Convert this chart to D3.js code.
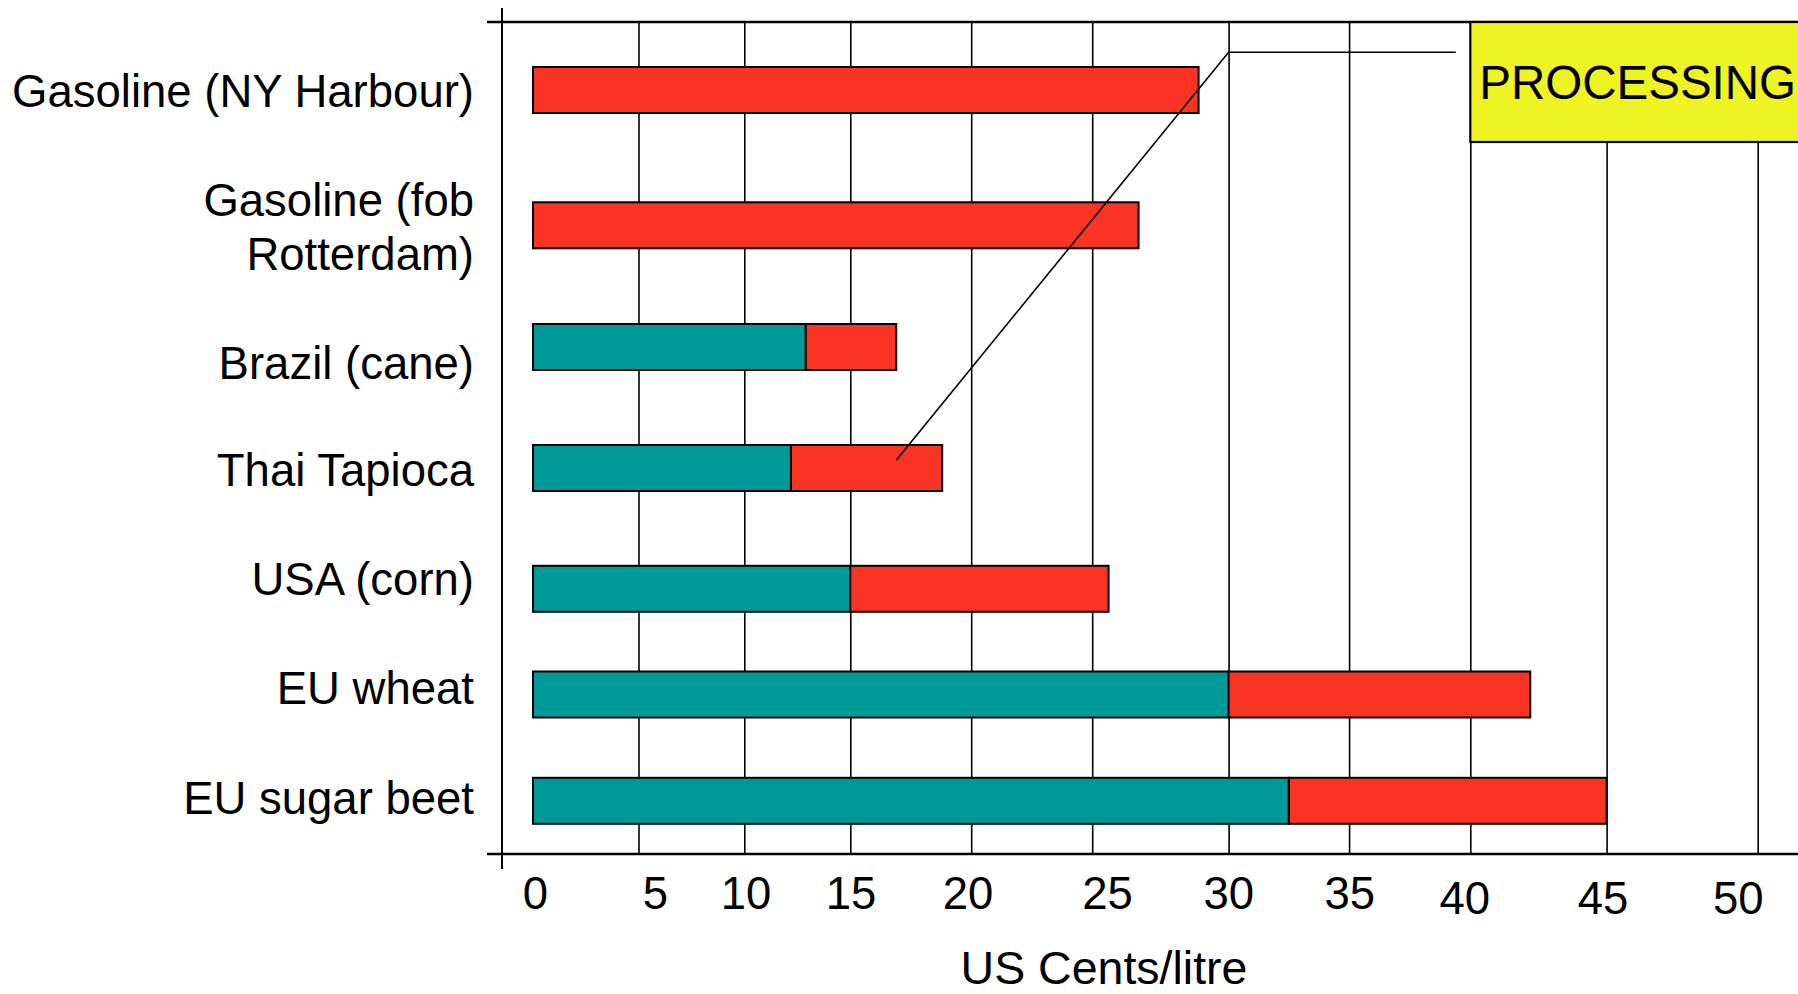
<!DOCTYPE html>
<html>
<head>
<meta charset="utf-8">
<script src="https://cdn.jsdelivr.net/npm/d3@7"></script>
<style>
  html, body { margin: 0; padding: 0; background: #ffffff; }
  svg { display: block; font-family: "Liberation Sans", Arial, sans-serif; }
</style>
</head>
<body>
<svg id="chart" width="1798" height="994"></svg>
<script>
// ---- data ----
const categories = ["Gasoline (NY Harbour)", "Gasoline (fob Rotterdam)", "Brazil (cane)",
                    "Thai Tapioca", "USA (corn)", "EU wheat", "EU sugar beet"];
const categoryLines = [["Gasoline (NY Harbour)"], ["Gasoline (fob", "Rotterdam)"], ["Brazil (cane)"],
                       ["Thai Tapioca"], ["USA (corn)"], ["EU wheat"], ["EU sugar beet"]];
const feedstockCost  = [0, 0, 12.9, 12.2, 15.0, 30.0, 32.5];   // teal segment
const processingCost = [28.9, 26.7, 4.0, 6.6, 10.6, 12.2, 12.5]; // red segment
const tickValues = [0, 5, 10, 15, 20, 25, 30, 35, 40, 45, 50];
const gridValues = [5, 10, 15, 20, 25, 30, 35, 40, 45, 50];
const axisTitle = "US Cents/litre";
const calloutText = "PROCESSING";
const calloutTarget = { category: "Thai Tapioca", value: 16.9 };
const calloutElbowValue = 30;
const calloutEndValue = 39.4;
const calloutBoxValue = 40;

// ---- layout ----
const W = 1798, H = 994;
const plotTop = 22, plotBottom = 854, axisX = 502, lineLeft = 487;
const barH = 46;
const colors = { feed: "#009999", proc: "#F93422", box: "#EEF422", ink: "#000000" };

// The original picture's value axis is not evenly spaced: piecewise-linear scale
const x = d3.scaleLinear()
  .domain(tickValues)
  .range([533, 638.5, 744.3, 850.3, 971.2, 1092.2, 1228.6, 1349.1, 1470.3, 1606.6, 1757.7]);
// tick labels are placed slightly off the grid lines in the original
const xLabel = d3.scaleLinear()
  .domain(tickValues)
  .range([535, 655, 745.6, 850.5, 967.5, 1107, 1228.2, 1349.2, 1464.2, 1602.5, 1737.8]);
const yBar = d3.scaleOrdinal().domain(categories)
  .range([90, 225.3, 347, 468, 588.8, 694.5, 800.8]);
const yLabel = d3.scaleOrdinal().domain(categories)
  .range([91, 227, 363, 470, 579, 688, 798]);

const svg = d3.select("#chart");

// grid lines (vertical)
const grid = svg.append("g")
  .attr("transform", `translate(0,${plotBottom})`)
  .call(d3.axisBottom(x).tickValues(gridValues).tickSize(-(plotBottom - plotTop)).tickFormat(""));
grid.select(".domain").remove();
grid.selectAll(".tick line").attr("stroke", colors.ink).attr("stroke-width", 1.6);

// frame lines
svg.append("line").attr("x1", lineLeft).attr("x2", W).attr("y1", plotTop).attr("y2", plotTop)
  .attr("stroke", colors.ink).attr("stroke-width", 2.6);
svg.append("line").attr("x1", lineLeft).attr("x2", W).attr("y1", plotBottom).attr("y2", plotBottom)
  .attr("stroke", colors.ink).attr("stroke-width", 2.6);
svg.append("line").attr("x1", axisX).attr("x2", axisX).attr("y1", 8).attr("y2", 869)
  .attr("stroke", colors.ink).attr("stroke-width", 2);

// bars
const rows = categories.map((c, i) => ({ cat: c, feed: feedstockCost[i], proc: processingCost[i] }));
const barG = svg.append("g");
barG.selectAll("rect.feed").data(rows.filter(d => d.feed > 0)).join("rect")
  .attr("class", "feed")
  .attr("x", d => x(0)).attr("width", d => x(d.feed) - x(0))
  .attr("y", d => yBar(d.cat) - barH / 2).attr("height", barH)
  .attr("fill", colors.feed).attr("stroke", colors.ink).attr("stroke-width", 2);
barG.selectAll("rect.proc").data(rows).join("rect")
  .attr("class", "proc")
  .attr("x", d => x(d.feed)).attr("width", d => x(d.feed + d.proc) - x(d.feed))
  .attr("y", d => yBar(d.cat) - barH / 2).attr("height", barH)
  .attr("fill", colors.proc).attr("stroke", colors.ink).attr("stroke-width", 2);

// callout box
svg.append("rect")
  .attr("x", x(calloutBoxValue)).attr("y", plotTop)
  .attr("width", W - x(calloutBoxValue) + 10).attr("height", 120)
  .attr("fill", colors.box).attr("stroke", colors.ink).attr("stroke-width", 2.2);
svg.append("text")
  .attr("x", x(calloutBoxValue) + 9).attr("y", 99)
  .attr("font-size", 47.5).attr("fill", colors.ink)
  .text(calloutText);

// leader line
const elbowY = plotTop + 30.3;
const leader = [
  [x(calloutEndValue), elbowY],
  [x(calloutElbowValue), elbowY],
  [x(calloutTarget.value), yBar(calloutTarget.category) - 7.7]
];
svg.append("path")
  .attr("d", d3.line()(leader))
  .attr("fill", "none").attr("stroke", colors.ink).attr("stroke-width", 1.6);

// category labels
const lineGap = 53.3;
const labX = 474;
const labG = svg.append("g").attr("font-size", 45.5).attr("fill", colors.ink).attr("text-anchor", "end");
labG.selectAll("text").data(categories).join("text")
  .attr("x", labX)
  .attr("y", d => yLabel(d) + 16)
  .each(function(d, i) {
    const lines = categoryLines[i];
    const t = d3.select(this);
    lines.forEach((ln, k) => {
      t.append("tspan").attr("x", labX)
        .attr("y", yLabel(d) + 16 + (k - (lines.length - 1) / 2) * lineGap)
        .text(ln);
    });
  });

// tick labels
const tickAxis = svg.append("g")
  .attr("transform", `translate(0,${plotBottom})`)
  .call(d3.axisBottom(xLabel).tickValues(tickValues).tickSize(0).tickPadding(23).tickFormat(d3.format("d")));
tickAxis.select(".domain").remove();
tickAxis.selectAll("text")
  .attr("font-size", 45.5).attr("fill", colors.ink)
  .attr("font-family", "Liberation Sans, Arial, sans-serif")
  .attr("dy", d => d >= 40 ? "0.82em" : "0.71em");

// axis title
svg.append("text")
  .attr("x", 1104).attr("y", 984)
  .attr("text-anchor", "middle").attr("font-size", 46.5).attr("fill", colors.ink)
  .text(axisTitle);
</script>
</body>
</html>
